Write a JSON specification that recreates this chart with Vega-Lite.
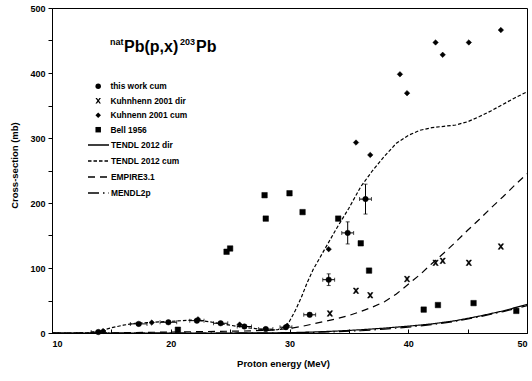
{
  "$schema": "https://vega.github.io/schema/vega-lite/v6.json",
  "width": 475,
  "height": 325,
  "autosize": {"type": "none"},
  "padding": {"left": 52, "top": 8, "right": 5, "bottom": 48},
  "background": "white",
  "config": {
    "view": {"stroke": "black", "strokeWidth": 1},
    "font": "Liberation Sans",
    "axis": {
      "grid": false,
      "domainColor": "black",
      "domainWidth": 1,
      "tickColor": "black",
      "labelColor": "black",
      "titleColor": "black",
      "labelFont": "Liberation Sans",
      "labelFontWeight": "bold",
      "labelFontSize": 9,
      "titleFont": "Liberation Sans",
      "titleFontWeight": "bold",
      "titleFontSize": 9.5
    }
  },
  "datasets": {
    "curves": [
      {"model": "TENDL 2012 dir", "e": 10, "xs": 0},
      {"model": "TENDL 2012 dir", "e": 25, "xs": 0},
      {"model": "TENDL 2012 dir", "e": 30, "xs": 0.5},
      {"model": "TENDL 2012 dir", "e": 32, "xs": 1.5},
      {"model": "TENDL 2012 dir", "e": 34, "xs": 3},
      {"model": "TENDL 2012 dir", "e": 36, "xs": 5},
      {"model": "TENDL 2012 dir", "e": 38, "xs": 7.5},
      {"model": "TENDL 2012 dir", "e": 40, "xs": 10.5},
      {"model": "TENDL 2012 dir", "e": 42, "xs": 14},
      {"model": "TENDL 2012 dir", "e": 44, "xs": 19},
      {"model": "TENDL 2012 dir", "e": 46, "xs": 26},
      {"model": "TENDL 2012 dir", "e": 48, "xs": 34},
      {"model": "TENDL 2012 dir", "e": 50, "xs": 44},
      {"model": "MENDL2p", "e": 10, "xs": 0},
      {"model": "MENDL2p", "e": 30, "xs": 0},
      {"model": "MENDL2p", "e": 32, "xs": 1},
      {"model": "MENDL2p", "e": 34, "xs": 2},
      {"model": "MENDL2p", "e": 36, "xs": 3.5},
      {"model": "MENDL2p", "e": 38, "xs": 6},
      {"model": "MENDL2p", "e": 40, "xs": 9},
      {"model": "MENDL2p", "e": 42, "xs": 13},
      {"model": "MENDL2p", "e": 44, "xs": 18},
      {"model": "MENDL2p", "e": 46, "xs": 25},
      {"model": "MENDL2p", "e": 48, "xs": 33},
      {"model": "MENDL2p", "e": 50, "xs": 42},
      {"model": "EMPIRE3.1", "e": 10, "xs": 0},
      {"model": "EMPIRE3.1", "e": 14, "xs": 0},
      {"model": "EMPIRE3.1", "e": 18, "xs": 1},
      {"model": "EMPIRE3.1", "e": 22, "xs": 2},
      {"model": "EMPIRE3.1", "e": 26, "xs": 3},
      {"model": "EMPIRE3.1", "e": 28, "xs": 4},
      {"model": "EMPIRE3.1", "e": 29, "xs": 5},
      {"model": "EMPIRE3.1", "e": 30, "xs": 7},
      {"model": "EMPIRE3.1", "e": 31, "xs": 10},
      {"model": "EMPIRE3.1", "e": 32, "xs": 14},
      {"model": "EMPIRE3.1", "e": 33, "xs": 18},
      {"model": "EMPIRE3.1", "e": 34, "xs": 22},
      {"model": "EMPIRE3.1", "e": 35, "xs": 27},
      {"model": "EMPIRE3.1", "e": 36, "xs": 33},
      {"model": "EMPIRE3.1", "e": 37, "xs": 40},
      {"model": "EMPIRE3.1", "e": 38, "xs": 48},
      {"model": "EMPIRE3.1", "e": 39, "xs": 60},
      {"model": "EMPIRE3.1", "e": 40, "xs": 75},
      {"model": "EMPIRE3.1", "e": 41, "xs": 90},
      {"model": "EMPIRE3.1", "e": 42, "xs": 107},
      {"model": "EMPIRE3.1", "e": 43, "xs": 123},
      {"model": "EMPIRE3.1", "e": 44, "xs": 140},
      {"model": "EMPIRE3.1", "e": 45, "xs": 158},
      {"model": "EMPIRE3.1", "e": 46, "xs": 175},
      {"model": "EMPIRE3.1", "e": 47, "xs": 193},
      {"model": "EMPIRE3.1", "e": 48, "xs": 210},
      {"model": "EMPIRE3.1", "e": 49, "xs": 228},
      {"model": "EMPIRE3.1", "e": 50, "xs": 245},
      {"model": "TENDL 2012 cum", "e": 10, "xs": 0},
      {"model": "TENDL 2012 cum", "e": 12, "xs": 0},
      {"model": "TENDL 2012 cum", "e": 13, "xs": 0.5},
      {"model": "TENDL 2012 cum", "e": 14, "xs": 3},
      {"model": "TENDL 2012 cum", "e": 15, "xs": 8},
      {"model": "TENDL 2012 cum", "e": 16, "xs": 12},
      {"model": "TENDL 2012 cum", "e": 17, "xs": 15},
      {"model": "TENDL 2012 cum", "e": 18, "xs": 16},
      {"model": "TENDL 2012 cum", "e": 19, "xs": 17},
      {"model": "TENDL 2012 cum", "e": 20, "xs": 18},
      {"model": "TENDL 2012 cum", "e": 21, "xs": 19},
      {"model": "TENDL 2012 cum", "e": 22, "xs": 20},
      {"model": "TENDL 2012 cum", "e": 23, "xs": 18},
      {"model": "TENDL 2012 cum", "e": 24, "xs": 15},
      {"model": "TENDL 2012 cum", "e": 25, "xs": 12},
      {"model": "TENDL 2012 cum", "e": 26, "xs": 9},
      {"model": "TENDL 2012 cum", "e": 27, "xs": 7},
      {"model": "TENDL 2012 cum", "e": 28, "xs": 5},
      {"model": "TENDL 2012 cum", "e": 29, "xs": 5},
      {"model": "TENDL 2012 cum", "e": 29.7, "xs": 10},
      {"model": "TENDL 2012 cum", "e": 30, "xs": 18},
      {"model": "TENDL 2012 cum", "e": 30.5, "xs": 35},
      {"model": "TENDL 2012 cum", "e": 31, "xs": 55},
      {"model": "TENDL 2012 cum", "e": 31.5, "xs": 78},
      {"model": "TENDL 2012 cum", "e": 32, "xs": 98},
      {"model": "TENDL 2012 cum", "e": 33, "xs": 130},
      {"model": "TENDL 2012 cum", "e": 34, "xs": 162},
      {"model": "TENDL 2012 cum", "e": 35, "xs": 192},
      {"model": "TENDL 2012 cum", "e": 36, "xs": 225},
      {"model": "TENDL 2012 cum", "e": 37, "xs": 250},
      {"model": "TENDL 2012 cum", "e": 38, "xs": 272},
      {"model": "TENDL 2012 cum", "e": 39, "xs": 292},
      {"model": "TENDL 2012 cum", "e": 40, "xs": 304},
      {"model": "TENDL 2012 cum", "e": 41, "xs": 312},
      {"model": "TENDL 2012 cum", "e": 42, "xs": 316},
      {"model": "TENDL 2012 cum", "e": 43, "xs": 318},
      {"model": "TENDL 2012 cum", "e": 44, "xs": 320},
      {"model": "TENDL 2012 cum", "e": 45, "xs": 325},
      {"model": "TENDL 2012 cum", "e": 46, "xs": 333},
      {"model": "TENDL 2012 cum", "e": 47, "xs": 342},
      {"model": "TENDL 2012 cum", "e": 48, "xs": 352},
      {"model": "TENDL 2012 cum", "e": 49, "xs": 362},
      {"model": "TENDL 2012 cum", "e": 50, "xs": 371}
    ],
    "err": [
      {"e": 13.9, "xs": 1.5, "ylo": 0, "yhi": 3, "xlo": 13.3, "xhi": 14.5},
      {"e": 17.3, "xs": 14, "ylo": 12, "yhi": 16, "xlo": 16.6, "xhi": 18.0},
      {"e": 19.8, "xs": 16.5, "ylo": 14.5, "yhi": 18.5, "xlo": 19.1, "xhi": 20.5},
      {"e": 22.2, "xs": 19, "ylo": 17, "yhi": 21, "xlo": 21.6, "xhi": 22.8},
      {"e": 24.2, "xs": 15, "ylo": 13, "yhi": 17, "xlo": 23.6, "xhi": 24.8},
      {"e": 26.2, "xs": 10, "ylo": 8, "yhi": 12, "xlo": 25.6, "xhi": 26.8},
      {"e": 28.0, "xs": 6, "ylo": 4, "yhi": 8, "xlo": 27.4, "xhi": 28.6},
      {"e": 29.7, "xs": 9, "ylo": 7, "yhi": 11, "xlo": 29.2, "xhi": 30.2},
      {"e": 31.7, "xs": 28, "ylo": 25, "yhi": 31, "xlo": 31.2, "xhi": 32.2},
      {"e": 33.3, "xs": 82, "ylo": 73, "yhi": 91, "xlo": 32.8, "xhi": 33.8},
      {"e": 34.9, "xs": 154, "ylo": 137, "yhi": 171, "xlo": 34.4, "xhi": 35.4},
      {"e": 36.4, "xs": 206, "ylo": 183, "yhi": 229, "xlo": 35.9, "xhi": 36.9}
    ],
    "pts": [
      {"series": "this work cum", "e": 13.9, "xs": 1.5},
      {"series": "this work cum", "e": 17.3, "xs": 14},
      {"series": "this work cum", "e": 19.8, "xs": 16.5},
      {"series": "this work cum", "e": 22.2, "xs": 19},
      {"series": "this work cum", "e": 24.2, "xs": 15},
      {"series": "this work cum", "e": 26.2, "xs": 10},
      {"series": "this work cum", "e": 28.0, "xs": 6},
      {"series": "this work cum", "e": 29.7, "xs": 9},
      {"series": "this work cum", "e": 31.7, "xs": 28},
      {"series": "this work cum", "e": 33.3, "xs": 82},
      {"series": "this work cum", "e": 34.9, "xs": 154},
      {"series": "this work cum", "e": 36.4, "xs": 206},
      {"series": "Kuhnhenn 2001 dir", "e": 33.4, "xs": 30},
      {"series": "Kuhnhenn 2001 dir", "e": 35.6, "xs": 65},
      {"series": "Kuhnhenn 2001 dir", "e": 36.8, "xs": 58},
      {"series": "Kuhnhenn 2001 dir", "e": 39.9, "xs": 83},
      {"series": "Kuhnhenn 2001 dir", "e": 42.3, "xs": 108},
      {"series": "Kuhnhenn 2001 dir", "e": 42.9, "xs": 111},
      {"series": "Kuhnhenn 2001 dir", "e": 45.1, "xs": 108},
      {"series": "Kuhnhenn 2001 dir", "e": 47.8, "xs": 133},
      {"series": "Kuhnenn 2001 cum", "e": 14.3, "xs": 3},
      {"series": "Kuhnenn 2001 cum", "e": 18.4, "xs": 16},
      {"series": "Kuhnenn 2001 cum", "e": 22.3, "xs": 21},
      {"series": "Kuhnenn 2001 cum", "e": 25.8, "xs": 13},
      {"series": "Kuhnenn 2001 cum", "e": 29.8, "xs": 11},
      {"series": "Kuhnenn 2001 cum", "e": 33.3, "xs": 129},
      {"series": "Kuhnenn 2001 cum", "e": 35.6, "xs": 293},
      {"series": "Kuhnenn 2001 cum", "e": 36.8, "xs": 274},
      {"series": "Kuhnenn 2001 cum", "e": 39.3, "xs": 398},
      {"series": "Kuhnenn 2001 cum", "e": 39.9, "xs": 369},
      {"series": "Kuhnenn 2001 cum", "e": 42.3, "xs": 447},
      {"series": "Kuhnenn 2001 cum", "e": 42.9, "xs": 428},
      {"series": "Kuhnenn 2001 cum", "e": 45.1, "xs": 447},
      {"series": "Kuhnenn 2001 cum", "e": 47.8, "xs": 466},
      {"series": "Bell 1956", "e": 20.6, "xs": 5},
      {"series": "Bell 1956", "e": 24.7, "xs": 125},
      {"series": "Bell 1956", "e": 25.0, "xs": 130},
      {"series": "Bell 1956", "e": 27.9, "xs": 212},
      {"series": "Bell 1956", "e": 28.0, "xs": 176},
      {"series": "Bell 1956", "e": 30.0, "xs": 215},
      {"series": "Bell 1956", "e": 31.1, "xs": 186},
      {"series": "Bell 1956", "e": 34.1, "xs": 176},
      {"series": "Bell 1956", "e": 36.0, "xs": 138},
      {"series": "Bell 1956", "e": 36.7, "xs": 96},
      {"series": "Bell 1956", "e": 41.3, "xs": 36},
      {"series": "Bell 1956", "e": 42.5, "xs": 43},
      {"series": "Bell 1956", "e": 45.5, "xs": 46},
      {"series": "Bell 1956", "e": 49.1, "xs": 34}
    ]
  },
  "encoding": {
    "x": {
      "type": "quantitative",
      "scale": {"domain": [10, 50], "nice": false, "zero": false},
      "axis": {
        "title": "Proton  energy (MeV)",
        "values": [10, 15, 20, 25, 30, 35, 40, 45, 50],
        "labelExpr": "datum.value % 10 === 0 ? datum.label : ''",
        "tickSize": -4,
        "labelPadding": 10,
        "titleX": 231,
        "titleY": 25,
        "titleBaseline": "top",
        "titleAnchor": null
      }
    },
    "y": {
      "type": "quantitative",
      "scale": {"domain": [0, 500], "nice": false},
      "axis": {
        "title": "Cross-section (mb)",
        "values": [0, 50, 100, 150, 200, 250, 300, 350, 400, 450, 500],
        "labelExpr": "datum.value % 100 === 0 ? datum.label : ''",
        "tickSize": 4,
        "labelPadding": 3,
        "titleX": -33,
        "titleY": 157,
        "titleAnchor": null
      }
    }
  },
  "layer": [
    {
      "data": {"name": "curves"},
      "mark": {"type": "line", "color": "black", "strokeWidth": 1.2},
      "encoding": {
        "x": {"field": "e", "type": "quantitative"},
        "y": {"field": "xs", "type": "quantitative"},
        "strokeDash": {
          "field": "model",
          "type": "nominal",
          "scale": {
            "domain": ["TENDL 2012 dir", "TENDL 2012 cum", "EMPIRE3.1", "MENDL2p"],
            "range": [[1, 0], [3.5, 2], [7, 5], [11, 4, 1.5, 4]]
          },
          "legend": {
            "orient": "none",
            "legendX": 35,
            "legendY": 125.5,
            "title": null,
            "padding": 0,
            "symbolType": "stroke",
            "symbolSize": 441,
            "symbolStrokeColor": "black",
            "symbolStrokeWidth": 1.5,
            "labelOffset": 1,
            "labelFont": "Liberation Sans",
            "labelFontWeight": "bold",
            "labelFontSize": 8.4,
            "labelColor": "black",
            "rowPadding": -6.7
          }
        }
      }
    },
    {
      "data": {"name": "err"},
      "mark": {"type": "errorbar", "color": "black", "thickness": 1, "ticks": {"size": 4, "color": "black"}},
      "encoding": {
        "x": {"field": "e", "type": "quantitative"},
        "y": {"field": "ylo", "type": "quantitative"},
        "y2": {"field": "yhi"}
      }
    },
    {
      "data": {"name": "err"},
      "mark": {"type": "errorbar", "color": "black", "thickness": 1, "ticks": {"size": 4, "color": "black"}},
      "encoding": {
        "y": {"field": "xs", "type": "quantitative"},
        "x": {"field": "xlo", "type": "quantitative"},
        "x2": {"field": "xhi"}
      }
    },
    {
      "data": {"name": "pts"},
      "mark": {"type": "point", "filled": true, "color": "black", "stroke": "black", "strokeWidth": 0.5, "opacity": 1, "size": 30},
      "encoding": {
        "x": {"field": "e", "type": "quantitative"},
        "y": {"field": "xs", "type": "quantitative"},
        "shape": {
          "field": "series",
          "type": "nominal",
          "scale": {
            "domain": ["this work cum", "Kuhnhenn 2001 dir", "Kuhnenn 2001 cum", "Bell 1956"],
            "range": ["circle", "M-1,-1L-0.45,-1L0,-0.35L0.45,-1L1,-1L0.3,0L1,1L0.45,1L0,0.35L-0.45,1L-1,1L-0.3,0Z", "diamond", "square"]
          },
          "legend": {
            "orient": "none",
            "legendX": 42,
            "legendY": 74,
            "title": null,
            "padding": 0,
            "symbolSize": 30,
            "symbolFillColor": "black",
            "symbolStrokeColor": "black",
            "symbolStrokeWidth": 0.5,
            "labelOffset": 8,
            "labelFont": "Liberation Sans",
            "labelFontWeight": "bold",
            "labelFontSize": 8.4,
            "labelColor": "black",
            "rowPadding": 5.5
          }
        }
      }
    },
    {
      "data": {"values": [{"t": "nat"}]},
      "mark": {"type": "text", "align": "left", "baseline": "alphabetic", "font": "Liberation Sans", "fontWeight": "bold", "fontSize": 9, "dx": 1, "dy": -7, "color": "black"},
      "encoding": {
        "x": {"datum": 14.8, "type": "quantitative"},
        "y": {"datum": 432, "type": "quantitative"},
        "text": {"field": "t"}
      }
    },
    {
      "data": {"values": [{"t": "Pb(p,x)"}]},
      "mark": {"type": "text", "align": "left", "baseline": "alphabetic", "font": "Liberation Sans", "fontWeight": "bold", "fontSize": 16, "dx": 15, "color": "black"},
      "encoding": {
        "x": {"datum": 14.8, "type": "quantitative"},
        "y": {"datum": 432, "type": "quantitative"},
        "text": {"field": "t"}
      }
    },
    {
      "data": {"values": [{"t": "203"}]},
      "mark": {"type": "text", "align": "left", "baseline": "alphabetic", "font": "Liberation Sans", "fontWeight": "bold", "fontSize": 9, "dx": 71, "dy": -7, "color": "black"},
      "encoding": {
        "x": {"datum": 14.8, "type": "quantitative"},
        "y": {"datum": 432, "type": "quantitative"},
        "text": {"field": "t"}
      }
    },
    {
      "data": {"values": [{"t": "Pb"}]},
      "mark": {"type": "text", "align": "left", "baseline": "alphabetic", "font": "Liberation Sans", "fontWeight": "bold", "fontSize": 16, "dx": 87, "color": "black"},
      "encoding": {
        "x": {"datum": 14.8, "type": "quantitative"},
        "y": {"datum": 432, "type": "quantitative"},
        "text": {"field": "t"}
      }
    }
  ]
}
